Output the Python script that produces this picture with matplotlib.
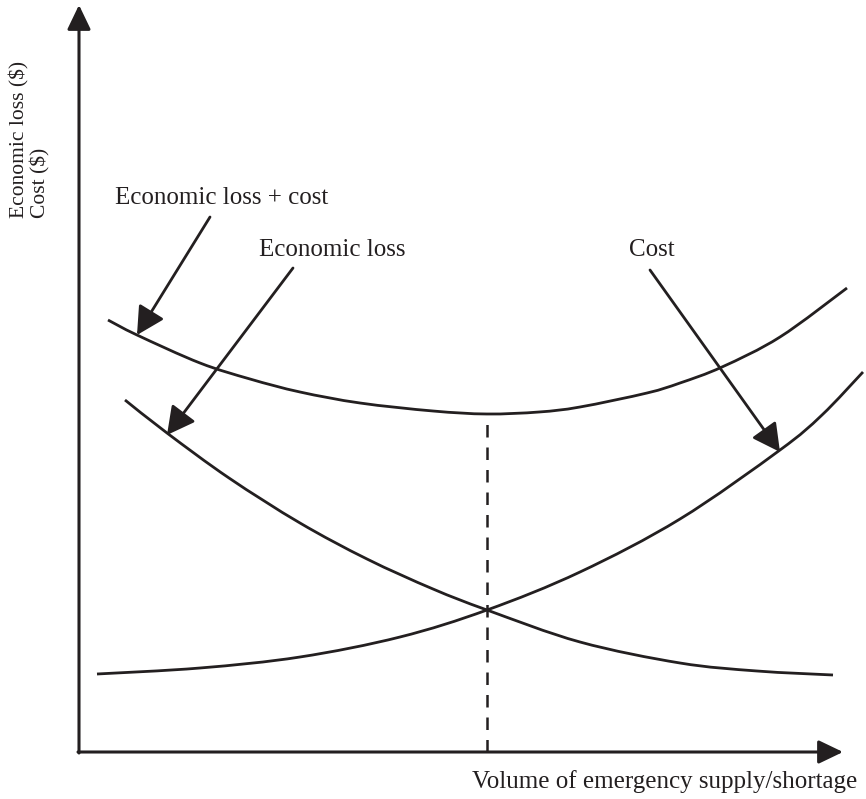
import matplotlib.pyplot as plt
from matplotlib.path import Path
from matplotlib.patches import PathPatch

# curvas conceituais: perda economica, custo e soma (unidades arbitrarias,
# origem no cruzamento dos eixos)
x_total = [29, 58, 121, 171, 221, 281, 354, 408, 460, 501, 568, 601, 643, 701, 768]
y_total = [432, 417, 389, 373, 360, 349, 341, 338, 340, 345, 359, 369, 385, 415, 464]

x_loss = [46, 88, 150, 221, 288, 354, 408, 501, 601, 678, 754]
y_loss = [352, 319, 274, 229, 193, 163, 142, 110, 89, 81, 77]

x_cost = [18, 121, 221, 321, 408, 501, 601, 701, 743, 784]
y_cost = [78, 84, 95, 115, 142, 180, 233, 302, 337, 380]

# ponto otimo (minimo da curva total)
x_otimo = 408
y_otimo = 338

# rotulos das curvas: (texto, posicao do texto, ponta da seta, cauda da seta)
rotulos = [('Economic loss + cost', (143, 554), (58, 417), (131, 535)),
           ('Economic loss', (253, 502), (88, 317), (214, 484)),
           ('Cost', (573, 502), (701, 300), (571, 482))]

plt.rcParams['font.family'] = ['Liberation Serif', 'DejaVu Serif']
cor = '#231f20'


def curva_suave(ax, xs, ys, **kw):
    """Passa uma curva suave (Catmull-Rom em Bezier cubicas) pelos pontos."""
    pts = list(zip(xs, ys))
    verts = [pts[0]]
    codes = [Path.MOVETO]
    for i in range(len(pts) - 1):
        p0 = pts[max(i - 1, 0)]
        p1 = pts[i]
        p2 = pts[i + 1]
        p3 = pts[min(i + 2, len(pts) - 1)]
        c1 = (p1[0] + (p2[0] - p0[0]) / 6, p1[1] + (p2[1] - p0[1]) / 6)
        c2 = (p2[0] - (p3[0] - p1[0]) / 6, p2[1] - (p3[1] - p1[1]) / 6)
        verts += [c1, c2, p2]
        codes += [Path.CURVE4] * 3
    ax.add_patch(PathPatch(Path(verts, codes), fill=False, **kw))


fig = plt.figure(figsize=(8.66, 7.99), dpi=100)
ax = fig.add_axes([0, 0, 1, 1])
ax.set_xlim(-79, 787)
ax.set_ylim(-47, 752)
ax.axis('off')

# eixos com setas
seta_eixo = dict(arrowstyle='-|>,head_length=0.75,head_width=0.36',
                 mutation_scale=20, lw=2.2, color=cor, shrinkA=0, shrinkB=0)
ax.annotate('', xy=(0, 747), xytext=(0, -1), arrowprops=seta_eixo)
ax.annotate('', xy=(764, 0), xytext=(-1, 0), arrowprops=seta_eixo)

# curvas
for xs, ys in [(x_total, y_total), (x_loss, y_loss), (x_cost, y_cost)]:
    curva_suave(ax, xs, ys, edgecolor=cor, lw=2.0, capstyle='butt')

# linha tracejada do otimo
ax.plot([x_otimo, x_otimo], [0, y_otimo], color=cor, lw=1.8, dashes=(5, 4))

# rotulos com setas
for texto, pos, ponta, cauda in rotulos:
    ax.text(pos[0], pos[1], texto, fontsize=18, ha='center', va='center',
            color=cor)
    ax.annotate('', xy=ponta, xytext=cauda,
                arrowprops=dict(arrowstyle='-|>,head_length=0.85,head_width=0.45',
                                mutation_scale=20, lw=2.0, color=cor,
                                shrinkA=0, shrinkB=0))

ax.text(778, -30, 'Volume of emergency supply/shortage', fontsize=18,
        ha='right', va='center', color=cor)
ax.text(-49, 534, 'Economic loss ($)\nCost ($)', fontsize=15.5, rotation=90,
        ha='center', va='bottom', multialignment='left', color=cor,
        linespacing=1.1)

fig.savefig('out.png', dpi=100)
